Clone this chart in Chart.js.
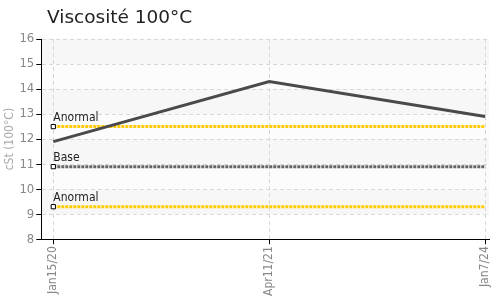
<!DOCTYPE html>
<html>
<head>
<meta charset="utf-8">
<script src="https://cdn.jsdelivr.net/npm/chart.js@4/dist/chart.umd.min.js"></script>
<style>
  html, body { margin: 0; padding: 0; background: #fff; }
  #wrap { width: 494px; height: 301px; }
</style>
</head>
<body>
<div id="wrap"><canvas id="chart"></canvas></div>
<script>
'use strict';
// Data
const dates = ['Jan15/20', 'Apr11/21', 'Jan7/24'];
const viscosity = [11.9, 14.3, 12.9];
const upperLimit = [12.5, 12.5, 12.5];
const baseValue = [10.9, 10.9, 10.9];
const lowerLimit = [9.3, 9.3, 9.3];
const yTicks = [8, 9, 10, 11, 12, 13, 14, 15, 16];
const chartTitle = 'Viscosité 100°C';

const condensed = '"DejaVu Sans Condensed", "Liberation Sans Narrow", "DejaVu Sans", sans-serif';

// Light bands behind the plot, one per tick interval, plus the title
const bandPlugin = {
  id: 'bands',
  beforeDraw(chart) {
    const {ctx, chartArea, scales} = chart;
    const y = scales.y;
    ctx.save();
    for (let v = 8; v < 16; v++) {
      ctx.fillStyle = (v % 2 === 1) ? '#f7f7f7' : '#fcfcfc';
      if (v === 8) ctx.fillStyle = '#ffffff';
      const top = y.getPixelForValue(v + 1);
      const bot = y.getPixelForValue(v);
      ctx.fillRect(chartArea.left, top, chartArea.right - chartArea.left, bot - top);
    }
    ctx.restore();
    ctx.save();
    ctx.font = '18.5px "DejaVu Sans", sans-serif';
    ctx.fillStyle = '#222';
    ctx.textBaseline = 'alphabetic';
    ctx.fillText(chartTitle, 47, 23);
    ctx.restore();
  }
};

// Names of the limit lines written above their first point
const labelPlugin = {
  id: 'limitLabels',
  afterDatasetsDraw(chart) {
    const {ctx} = chart;
    ctx.save();
    ctx.font = '12px ' + condensed;
    ctx.fillStyle = '#222';
    ctx.textBaseline = 'bottom';
    chart.data.datasets.forEach((ds, i) => {
      if (!ds.tag) return;
      const pt = chart.getDatasetMeta(i).data[0];
      ctx.fillText(ds.label, pt.x, pt.y - 3);
    });
    ctx.restore();
  }
};

function limitLine(label, data, color) {
  return {
    label: label, tag: true, data: data.map((v, i) => ({x: i, y: v})),
    borderColor: color, borderWidth: 3, borderDash: [3, 1],
    pointStyle: 'rect', pointRadius: [3, 0, 0],
    pointBackgroundColor: '#fff', pointBorderColor: '#000', pointBorderWidth: 1,
    order: 2
  };
}

new Chart(document.getElementById('chart'), {
  type: 'line',
  data: {
    labels: dates,
    datasets: [
      {label: 'Viscosité', data: viscosity.map((v, i) => ({x: i, y: v})),
       borderColor: '#4a4a4a', borderWidth: 3, pointRadius: 0, order: 1},
      limitLine('Anormal', upperLimit, '#ffcc00'),
      limitLine('Base', baseValue, '#666'),
      limitLine('Anormal', lowerLimit, '#ffcc00')
    ]
  },
  options: {
    responsive: true, maintainAspectRatio: false, animation: false,
    layout: {padding: {top: 39, right: 0, left: 3, bottom: 3}},
    plugins: {
      legend: {display: false},
      tooltip: {enabled: false}
    },
    scales: {
      x: {
        type: 'linear', min: -0.0557, max: 2.018,
        afterBuildTicks(axis) { axis.ticks = dates.map((d, i) => ({value: i})); },
        afterFit(axis) { axis.paddingRight = 0; },
        ticks: {callback: v => dates[v], color: '#888', minRotation: 90, maxRotation: 90,
                font: {family: condensed, size: 12}, padding: 2},
        grid: {color: '#d8d8d8', tickColor: '#000', tickLength: 5, drawTicks: true},
        border: {color: '#000', width: 1, dash: [4, 3]}
      },
      y: {
        min: 8, max: 16,
        afterBuildTicks(axis) { axis.ticks = yTicks.map(v => ({value: v})); },
        ticks: {color: '#888', font: {family: condensed, size: 13}, padding: 2},
        grid: {color: '#d8d8d8', tickColor: '#000', tickLength: 5},
        border: {color: '#000', width: 1, dash: [4, 3]},
        title: {display: true, text: 'cSt (100°C)', color: '#aaa',
                font: {family: condensed, size: 12}, padding: 0}
      }
    }
  },
  plugins: [bandPlugin, labelPlugin]
});
</script>
</body>
</html>
